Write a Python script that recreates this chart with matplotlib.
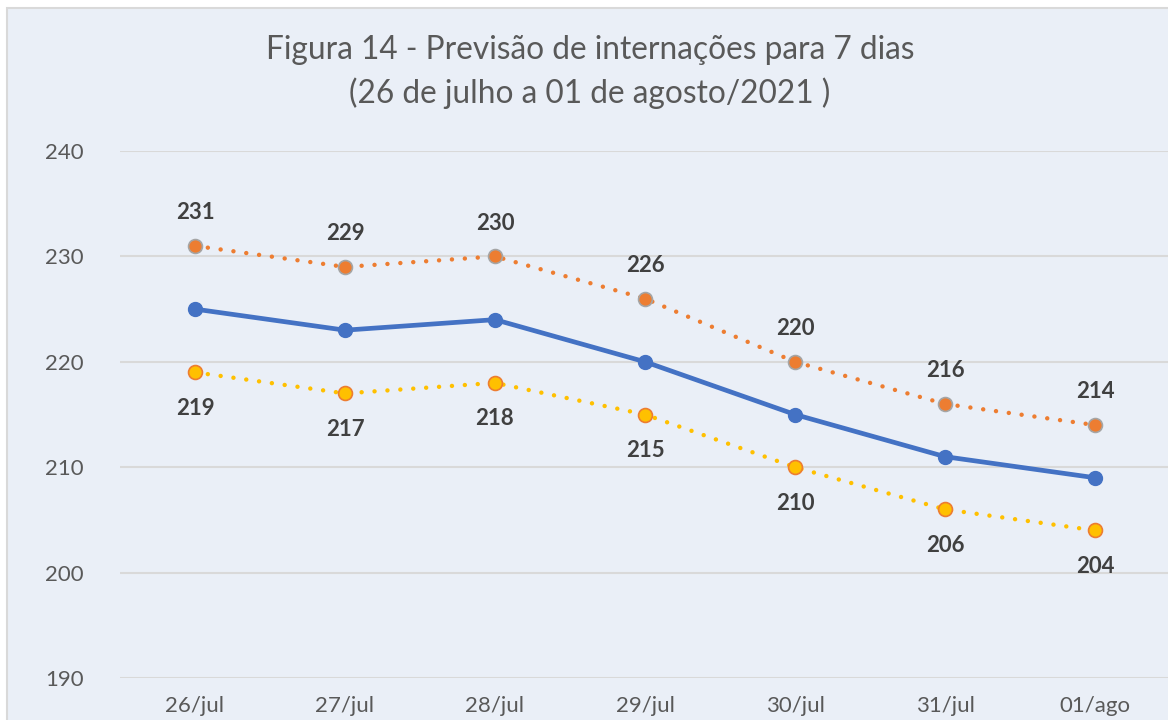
import numpy as np
import matplotlib.pyplot as plt
from matplotlib.patches import Rectangle

plt.rcParams['font.family'] = ['Lato', 'DejaVu Sans']

dias = ['26/jul', '27/jul', '28/jul', '29/jul', '30/jul', '31/jul', '01/ago']
previsao = [225, 223, 224, 220, 215, 211, 209]
superior = [231, 229, 230, 226, 220, 216, 214]
inferior = [219, 217, 218, 215, 210, 206, 204]

bg = '#EAEFF7'
fig = plt.figure(figsize=(11.68, 7.2), dpi=100)
fig.patch.set_facecolor('white')
# chart area frame (cropped at right and bottom)
fig.patches.append(Rectangle((7/1168, -0.1), 1.2, (720-8)/720 + 0.1,
                             transform=fig.transFigure, facecolor=bg,
                             edgecolor='#D9D9D9', linewidth=1.5, zorder=-10))

ax = fig.add_axes([120/1168, (720-678)/720, 1050/1168, (678-151)/720])
ax.set_zorder(1)
ax.patch.set_alpha(0)
x = np.arange(len(dias))

dots = (0, (0.01, 2.9))
ax.plot(x, superior, linestyle=dots, dash_capstyle='round', color='#ED7D31',
        linewidth=3.2, marker='o', markersize=10, markerfacecolor='#ED7D31',
        markeredgecolor='#A5A5A5', markeredgewidth=1.2, zorder=3)
ax.plot(x, previsao, linestyle='-', color='#4472C4', linewidth=3.4, marker='o',
        markersize=10, markerfacecolor='#4472C4', markeredgecolor='#4472C4', zorder=4)
ax.plot(x, inferior, linestyle=dots, dash_capstyle='round', color='#FFC000',
        linewidth=3.2, marker='o', markersize=10, markerfacecolor='#FFC000',
        markeredgecolor='#ED7D31', markeredgewidth=1.2, zorder=3)

for xi, v in zip(x, superior):
    ax.annotate(str(v), (xi, v), xytext=(0, 24), textcoords='offset points',
                ha='center', va='center', fontsize=16, fontweight='bold', color='#404040')
for xi, v in zip(x, inferior):
    ax.annotate(str(v), (xi, v), xytext=(0, -26), textcoords='offset points',
                ha='center', va='center', fontsize=16, fontweight='bold', color='#404040')

ax.set_xlim(-0.5, 6.5)
ax.set_ylim(190, 240)
ax.set_yticks(np.arange(190, 241, 10))
ax.set_xticks(x)
ax.set_xticklabels(dias)
ax.tick_params(axis='both', length=0, labelsize=16, colors='#595959')
ax.tick_params(axis='x', pad=13)
ax.tick_params(axis='y', pad=26)
ax.grid(axis='y', color='#D9D9D9', linewidth=1.5)
ax.set_axisbelow(True)
for s in ax.spines.values():
    s.set_visible(False)

fig.text(590/1168, 1 - 72/720, 'Figura 14 - Previsão de internações para 7 dias\n(26 de julho a 01 de agosto/2021 )',
         ha='center', va='center', fontsize=22.8, color='#595959', linespacing=1.45)

fig.savefig('out.png', dpi=100, facecolor=fig.get_facecolor())
